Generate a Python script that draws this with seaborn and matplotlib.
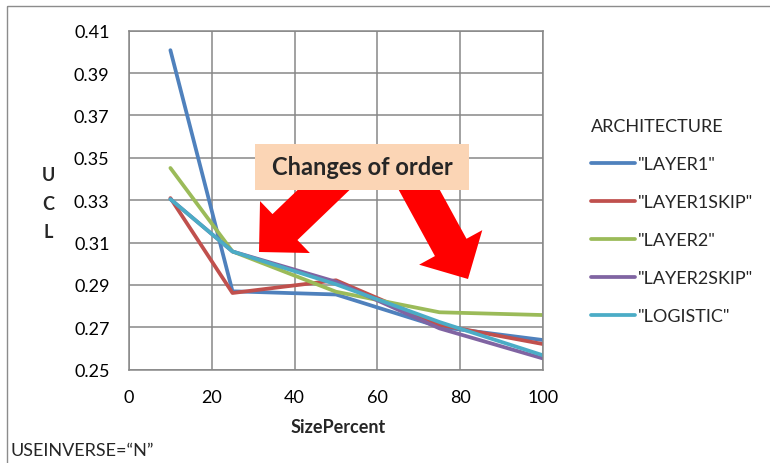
import numpy as np
import pandas as pd
import matplotlib
matplotlib.use("Agg")
import matplotlib.pyplot as plt
import matplotlib.patches as mpatches
from matplotlib.transforms import Affine2D
import seaborn as sns

# UCL by training-set size for each network architecture
size_percent = [10, 25, 50, 75, 100]
architectures = ['"LAYER1"', '"LAYER1SKIP"', '"LAYER2"', '"LAYER2SKIP"', '"LOGISTIC"']
ucl_layer1 = [0.4008, 0.2870, 0.2855, 0.2702, 0.2640]
ucl_layer1skip = [0.3310, 0.2862, 0.2922, 0.2712, 0.2621]
ucl_layer2 = [0.3452, 0.3058, 0.2868, 0.2771, 0.2758]
ucl_layer2skip = [0.3305, 0.3058, 0.2915, 0.2695, 0.2553]
ucl_logistic = [0.3305, 0.3058, 0.2903, 0.2725, 0.2568]
y_ticks = [0.25, 0.27, 0.29, 0.31, 0.33, 0.35, 0.37, 0.39, 0.41]
x_ticks = [0, 20, 40, 60, 80, 100]
colors = ["#4F81BD", "#C0504D", "#9BBB59", "#8064A2", "#4BACC6"]

series = [ucl_layer1, ucl_layer1skip, ucl_layer2, ucl_layer2skip, ucl_logistic]
df = pd.DataFrame({
    "SizePercent": size_percent * len(architectures),
    "UCL": [v for s in series for v in s],
    "ARCHITECTURE": [a for a in architectures for _ in size_percent],
})

sns.set_style("white")
plt.rcParams["font.family"] = ["Lato", "DejaVu Sans"]

W, H = 770, 464
FS = 13
fig = plt.figure(figsize=(W / 100, H / 100), dpi=100)
ax = fig.add_axes([129 / W, 1 - 370.7 / H, (543 - 129) / W, (370.7 - 31.7) / H])

grid_c = "#878787"
sns.lineplot(data=df, x="SizePercent", y="UCL", hue="ARCHITECTURE",
             hue_order=architectures, palette=colors, linewidth=2.7,
             ax=ax, legend=True)
for ln in ax.get_lines():
    ln.set_solid_capstyle("round")
    ln.set_solid_joinstyle("round")

ax.set_xlim(0, 100)
ax.set_ylim(0.25, 0.41)
ax.set_xticks(x_ticks)
ax.set_yticks(y_ticks)
ax.set_yticklabels([f"{v:.2f}" for v in y_ticks])
ax.grid(True, color=grid_c, linewidth=1.1)
ax.set_axisbelow(True)
for sp in ax.spines.values():
    sp.set_color(grid_c)
    sp.set_linewidth(1.1)
ax.tick_params(direction="out", length=4, width=1.1, color=grid_c,
               labelsize=FS, pad=10, labelcolor="black")
ax.set_xlabel("")
ax.set_ylabel("")

# axis titles
fig.text(338 / W, 1 - 428 / H, "SizePercent", fontsize=FS, fontweight="bold",
         ha="center", va="center")
fig.text(48 / W, 1 - 204 / H, "U\nC\nL", fontsize=FS, fontweight="bold",
         ha="center", va="center", linespacing=1.85)
fig.text(10 / W, 1 - 451 / H, "USEINVERSE=\u201cN\u201d", fontsize=FS,
         ha="left", va="center")

# legend
handles, labels = ax.get_legend_handles_labels()
leg = ax.legend(handles, labels, title="ARCHITECTURE", frameon=False,
                loc="upper left", bbox_to_anchor=(582 / W, 1 - 110 / H),
                bbox_transform=fig.transFigure, fontsize=FS, title_fontsize=FS,
                handlelength=2.45, handletextpad=0.13, labelspacing=1.22,
                borderpad=0, alignment="left")
for ln in leg.get_lines():
    ln.set_linewidth(2.7)
    ln.set_solid_capstyle("round")

# annotation box and arrows, in pixel units measured from the top-left corner
px = Affine2D().scale(0.01, -0.01).translate(0, H / 100) + fig.dpi_scale_trans

box = mpatches.Rectangle((255, 144.5), 214, 46, facecolor="#FBD5B5",
                         edgecolor="none", transform=px, zorder=6)
fig.patches.append(box)
fig.text(362 / W, 1 - 167.5 / H, "Changes of order", fontsize=17,
         fontweight="bold", ha="center", va="center", zorder=7)

for (x0, y0), (x1, y1) in [((352.7, 163.0), (259.0, 253.0)),
                           ((405.6, 166.0), (468.0, 280.0))]:
    arr = mpatches.FancyArrow(x0, y0, x1 - x0, y1 - y0, width=36,
                              head_width=72, head_length=36,
                              length_includes_head=True, color="#FF0000",
                              linewidth=0, transform=px, zorder=5)
    fig.patches.append(arr)

# chart frame
frame = mpatches.Rectangle((7, 7), 800, 500, facecolor="none",
                           edgecolor="#8C8C8C", linewidth=1.0, transform=px,
                           zorder=8)
fig.patches.append(frame)

fig.savefig("out.png", dpi=100)
